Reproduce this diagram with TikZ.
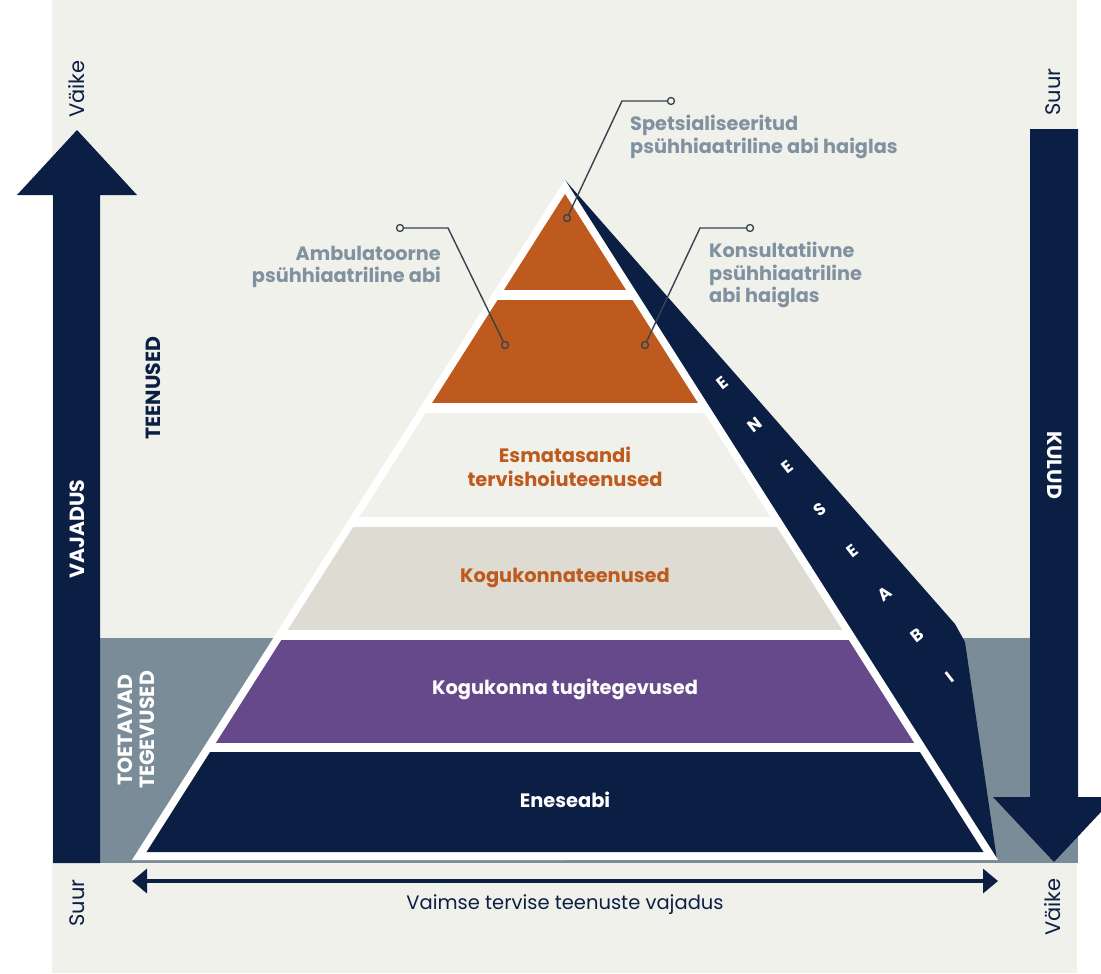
\documentclass[tikz,border=0pt]{standalone}
\usepackage{fontspec}
\setmainfont{Poppins}
\usetikzlibrary{arrows.meta}
\definecolor{bg}{HTML}{F1F1EC}
\definecolor{navy}{HTML}{0B1F45}
\definecolor{band}{HTML}{7A8C98}
\definecolor{orng}{HTML}{BE5A1E}
\definecolor{layfour}{HTML}{DDDBD2}
\definecolor{purp}{HTML}{66498A}
\definecolor{cgray}{HTML}{8091A0}
\definecolor{cline}{HTML}{35434F}
\tikzset{
  calloutline/.style={draw=cline, line width=1.4pt},
  dotmark/.style={circle, draw=cline, line width=1.3pt, inner sep=0pt, minimum size=7pt},
  callouttext/.style={text=cgray, font=\bfseries\fontsize{19.3}{22.5}\selectfont, inner sep=0pt},
  layertext/.style={font=\bfseries\fontsize{19.4}{23.5}\selectfont, align=center, inner sep=0pt},
  sidetext/.style={font=\fontsize{21}{24}\selectfont, text=navy, rotate=90, inner sep=0pt},
  captext/.style={font=\bfseries\fontsize{20.5}{22}\selectfont, inner sep=0pt, align=center},
  stripletter/.style={font=\bfseries\fontsize{17}{17}\selectfont, text=white, rotate=38, inner sep=0pt}
}
\begin{document}
\begin{tikzpicture}[x=1pt,y=-1pt]
\useasboundingbox (0,0) rectangle (1101,974);
\clip (0,0) rectangle (1101,974);
\fill[white] (0,0) rectangle (1101,974);
\fill[bg] (52,0) rectangle (1077,973);
% grey band of supporting activities
\fill[band] (100,638) rectangle (1078,863);
% left arrow (need)
\fill[navy] (53,863) -- (53,195) -- (17,195) -- (77,130) -- (137,195) -- (100,195) -- (100,863) -- cycle;
% right arrow (costs)
\fill[navy] (1030,129) -- (1078,129) -- (1078,797) -- (1115,797) -- (1054,862) -- (993,797) -- (1030,797) -- cycle;
% self-help strip
\fill[navy] (565,180) -- (955,624) -- (965,642) -- (997,860) -- (565,860) -- cycle;
% pyramid
\fill[white] (132,860) -- (565,180) -- (998,860) -- cycle;
\begin{scope}
  \clip (146.5,852) -- (565,194) -- (983.5,852) -- cycle;
  \fill[orng] (100,150) rectangle (1000,290);
  \fill[orng] (100,300) rectangle (1000,403);
  \fill[bg] (100,413) rectangle (1000,517);
  \fill[layfour] (100,527) rectangle (1000,630);
  \fill[purp] (100,640) rectangle (1000,743);
  \fill[navy] (100,752) rectangle (1000,860);
\end{scope}
% layer labels
\node[layertext, text=orng] (l3) at (565,467) {Esmatasandi\\tervishoiuteenused};
\node[layertext, text=orng] (l4) at (565,578) {Kogukonnateenused};
\node[layertext, text=white] (l5) at (565,689) {Kogukonna tugitegevused};
\node[layertext, text=white] (l6) at (565,800) {Eneseabi};
% strip letters
\foreach \ch [count=\i from 0] in {E,N,E,S,E,A,B,I} {
  \node[stripletter] (s\i) at ({722+32.6*\i},{383+42.1*\i}) {\ch};
}
% side texts
\node[sidetext] (vtop) at (77,89) {Väike};
\node[sidetext] (stop) at (1053,92) {Suur};
\node[sidetext] (sbot) at (77,903) {Suur};
\node[sidetext] (vbot) at (1053,907) {Väike};
\node[captext, text=white, rotate=90] (vaj) at (77,529) {VAJADUS};
\node[captext, text=white, rotate=-90] (kul) at (1055,465) {KULUD};
\node[captext, text=navy, rotate=90] (teen) at (153,388) {TEENUSED};
\node[captext, text=white, rotate=90] (toet) at (136,730) {TOETAVAD\\TEGEVUSED};
% bottom arrow
\coordinate (bl) at (132,881);
\coordinate (br) at (998,881);
\draw[navy, line width=3.5pt, {Triangle[length=15pt,width=24pt]}-{Triangle[length=15pt,width=24pt]}] (bl) -- (br);
\node[font=\fontsize{19.5}{22}\selectfont, text=navy, inner sep=0pt] (xlab) at (565,905) {Vaimse tervise teenuste vajadus};
% callouts
\node[dotmark, fill=orng] (d1) at (567,218) {};
\coordinate (k1) at (622,101);
\node[dotmark, fill=bg] (e1) at (671,101) {};
\draw[calloutline] (d1) -- (k1) -- (e1);
\node[callouttext, anchor=west, align=left] (t1) at (630,137) {Spetsialiseeritud\\psühhiaatriline abi haiglas};
\node[dotmark, fill=orng] (d2) at (645,345) {};
\coordinate (k2) at (700,228);
\node[dotmark, fill=bg] (e2) at (750,228) {};
\draw[calloutline] (d2) -- (k2) -- (e2);
\node[callouttext, anchor=west, align=left] (t2) at (709,275) {Konsultatiivne\\psühhiaatriline\\abi haiglas};
\node[dotmark, fill=orng] (d3) at (505,345) {};
\coordinate (k3) at (448,228);
\node[dotmark, fill=bg] (e3) at (400,228) {};
\draw[calloutline] (e3) -- (k3) -- (d3);
\node[callouttext, anchor=east, align=right] (t3) at (441,267) {Ambulatoorne\\psühhiaatriline abi};
\end{tikzpicture}
\end{document}
